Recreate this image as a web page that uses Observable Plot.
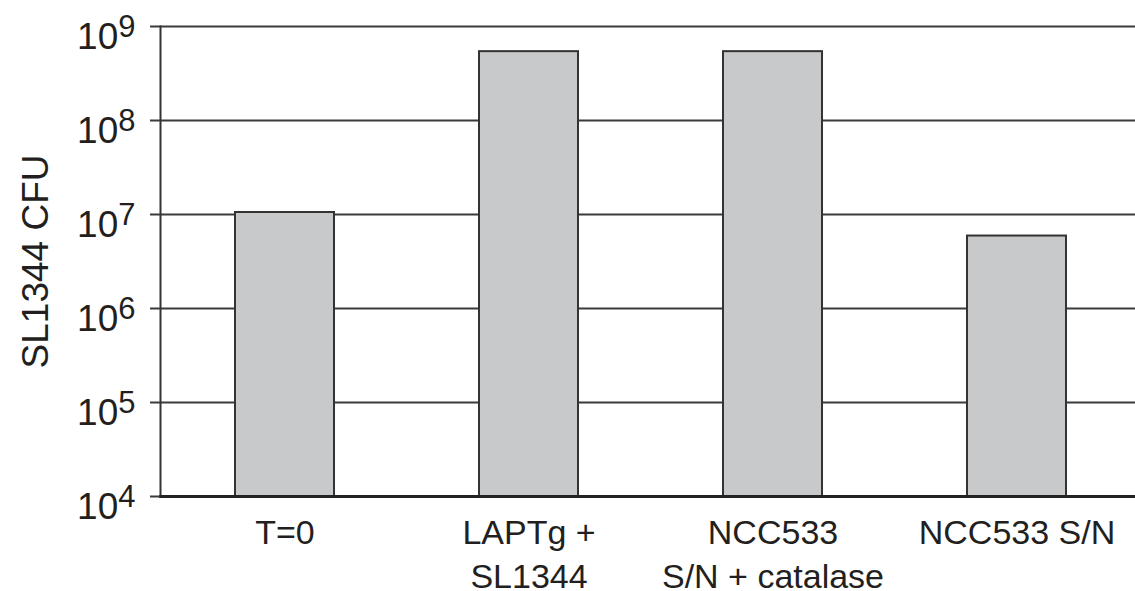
<!DOCTYPE html>
<html>
<head>
<meta charset="utf-8">
<script src="https://cdn.jsdelivr.net/npm/d3@7"></script>
<script src="https://cdn.jsdelivr.net/npm/@observablehq/plot@0.6"></script>
<style>
  html, body { margin: 0; padding: 0; background: #fff; overflow: hidden; }
  #chart svg { display: block; }
</style>
</head>
<body>
<div id="chart"></div>
<script>
const categories = ["T=0", "LAPTg +\nSL1344", "NCC533\nS/N + catalase", "NCC533 S/N"];
const cfu = [1.05e7, 5.4e8, 5.4e8, 5.9e6];
const yTicks = [1e4, 1e5, 1e6, 1e7, 1e8, 1e9];
const yLabel = "SL1344 CFU";

const rows = categories.map((c, i) => ({cat: c, value: cfu[i]}));

const chart = Plot.plot({
  width: 1135,
  height: 591,
  marginLeft: 160,
  marginRight: 0,
  marginTop: 26,
  marginBottom: 95,
  style: {fontFamily: "'Liberation Sans', Arial, sans-serif", color: "#231f20", background: "#fff"},
  x: {domain: categories, range: [162, 1139], paddingInner: 0.595, paddingOuter: 0.2975, align: 0.5},
  y: {type: "log", domain: [1e4, 1e9]},
  marks: [
    Plot.ruleY(yTicks, {stroke: "#3a3a3a", strokeWidth: 2}),
    Plot.barY(rows, {x: "cat", y1: 1e4, y2: "value", fill: "#c8c9cb", stroke: "#333", strokeWidth: 2}),
    Plot.frame({anchor: "left", stroke: "#333", strokeWidth: 2}),
    Plot.frame({anchor: "bottom", stroke: "#222", strokeWidth: 3}),
    Plot.axisY({
      ticks: yTicks, tickSize: 10, tickPadding: 15, fontSize: 37,
      stroke: "#3a3a3a", strokeWidth: 2,
      tickFormat: d => String(Math.round(Math.log10(d))),
      label: yLabel, labelAnchor: "center", labelArrow: "none", labelOffset: 139
    }),
    Plot.axisX({tickSize: 0, tickPadding: 16, fontSize: 34, lineHeight: 1.3, label: null})
  ]
});

// turn exponent tick labels into 10 with a superscript
chart.querySelectorAll('g[aria-label="y-axis tick label"] text').forEach(t => {
  const exp = t.textContent;
  t.textContent = "";
  const ns = "http://www.w3.org/2000/svg";
  const base = document.createElementNS(ns, "tspan");
  base.textContent = "10";
  base.setAttribute("dy", "11");
  const sup = document.createElementNS(ns, "tspan");
  sup.textContent = exp;
  sup.setAttribute("font-size", "31");
  sup.setAttribute("dy", "-12");
  t.appendChild(base);
  t.appendChild(sup);
});

document.getElementById("chart").appendChild(chart);
</script>
</body>
</html>
